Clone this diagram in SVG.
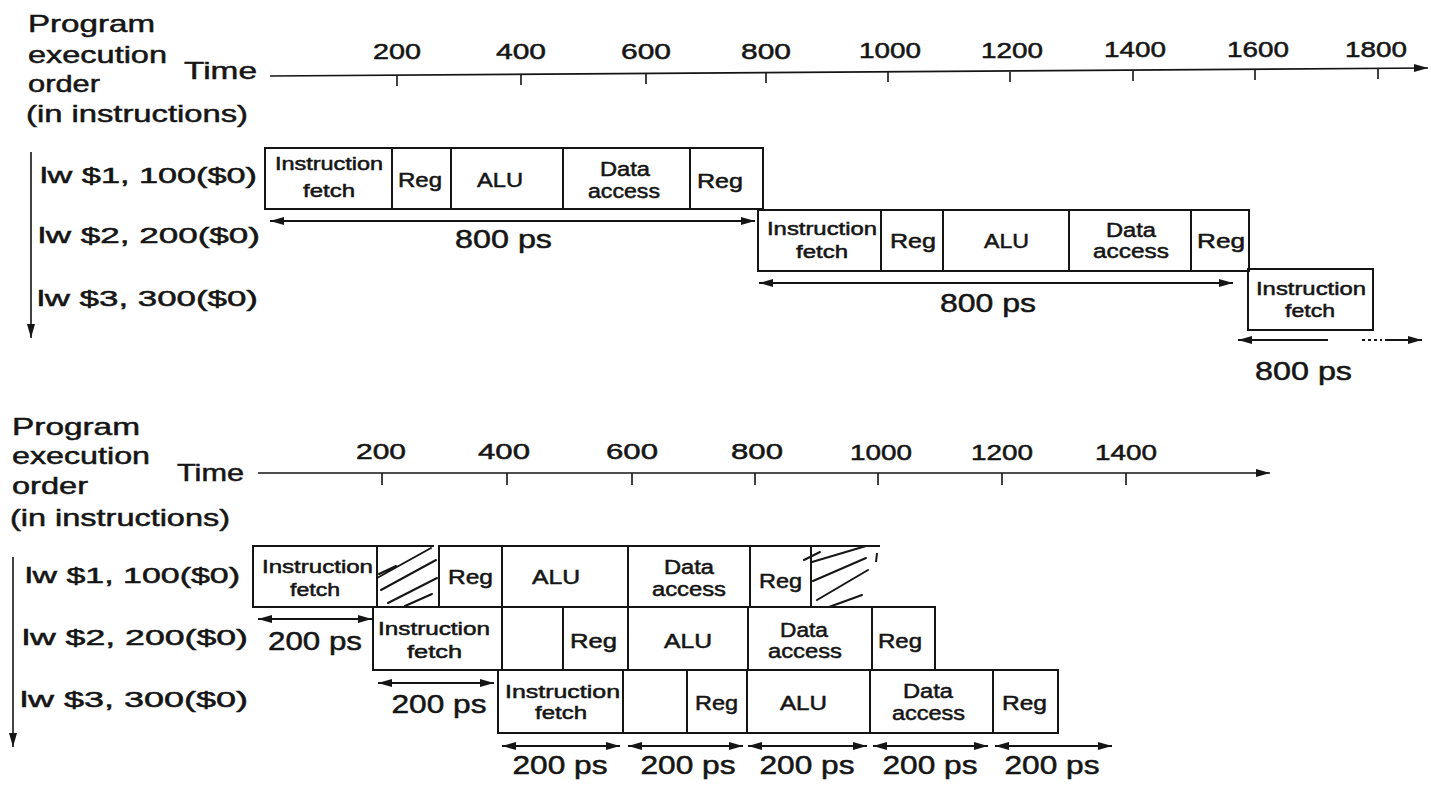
<svg xmlns="http://www.w3.org/2000/svg" width="1431" height="785" viewBox="0 0 1431 785">
<style>
text{font-family:"Liberation Sans",Arial,sans-serif;fill:#151515;stroke:#151515;stroke-width:0.5}
.big{font-size:24px}
.tk{font-size:22px}
.row{font-size:22px}
.st{font-size:20px}
.sm{font-size:18px}
.ps{font-size:25px}
.box{fill:none;stroke:#151515;stroke-width:2}
.ln{fill:none;stroke:#151515;stroke-width:2}
.ax{fill:none;stroke:#151515;stroke-width:1.6}
.hatch{fill:none;stroke:#151515;stroke-width:2;stroke-linecap:round}
</style>
<defs>
<marker id="ah" viewBox="0 0 14 10" refX="14" refY="5" markerWidth="14" markerHeight="10" markerUnits="userSpaceOnUse" orient="auto-start-reverse">
<path d="M0,1 L14,5 L0,9 z" fill="#151515"/>
</marker>
</defs>
<rect width="1431" height="785" fill="#ffffff"/>

<!-- ============ TOP DIAGRAM ============ -->
<g id="top-axis-labels">
<text class="big" x="28" y="32" textLength="127" lengthAdjust="spacingAndGlyphs">Program</text>
<text class="big" x="28" y="63" textLength="139" lengthAdjust="spacingAndGlyphs">execution</text>
<text class="big" x="28" y="92" textLength="72" lengthAdjust="spacingAndGlyphs">order</text>
<text class="big" x="26" y="122" textLength="222" lengthAdjust="spacingAndGlyphs">(in instructions)</text>
<text class="big" x="184" y="79" textLength="73" lengthAdjust="spacingAndGlyphs">Time</text>
<g text-anchor="middle">
<text class="tk" x="397" y="59" textLength="48" lengthAdjust="spacingAndGlyphs">200</text>
<text class="tk" x="521" y="59" textLength="50" lengthAdjust="spacingAndGlyphs">400</text>
<text class="tk" x="646" y="59" textLength="50" lengthAdjust="spacingAndGlyphs">600</text>
<text class="tk" x="766" y="59" textLength="50" lengthAdjust="spacingAndGlyphs">800</text>
<text class="tk" x="890" y="58" textLength="62" lengthAdjust="spacingAndGlyphs">1000</text>
<text class="tk" x="1012" y="58" textLength="62" lengthAdjust="spacingAndGlyphs">1200</text>
<text class="tk" x="1135" y="57" textLength="62" lengthAdjust="spacingAndGlyphs">1400</text>
<text class="tk" x="1258" y="57" textLength="62" lengthAdjust="spacingAndGlyphs">1600</text>
<text class="tk" x="1376" y="57" textLength="62" lengthAdjust="spacingAndGlyphs">1800</text>
</g>
<text class="row" x="40" y="183" textLength="217" lengthAdjust="spacingAndGlyphs">lw $1, 100($0)</text>
<text class="row" x="38" y="243" textLength="222" lengthAdjust="spacingAndGlyphs">lw $2, 200($0)</text>
<text class="row" x="37" y="306" textLength="221" lengthAdjust="spacingAndGlyphs">lw $3, 300($0)</text>
</g>

<!-- top row 1 -->
<g id="t1-if"><rect class="box" x="265" y="148" width="127" height="61"/>
<text class="sm" x="275" y="170" textLength="108" lengthAdjust="spacingAndGlyphs">Instruction</text>
<text class="sm" x="303" y="197" textLength="52" lengthAdjust="spacingAndGlyphs">fetch</text></g>
<g id="t1-reg1"><rect class="box" x="392" y="148" width="59" height="61"/>
<text class="st" x="398" y="187" textLength="44" lengthAdjust="spacingAndGlyphs">Reg</text></g>
<g id="t1-alu"><rect class="box" x="451" y="148" width="112" height="61"/>
<text class="st" x="477" y="187" textLength="46" lengthAdjust="spacingAndGlyphs">ALU</text></g>
<g id="t1-da"><rect class="box" x="563" y="148" width="127" height="61"/>
<text class="st" x="600" y="176" textLength="50" lengthAdjust="spacingAndGlyphs">Data</text>
<text class="st" x="588" y="198" textLength="72" lengthAdjust="spacingAndGlyphs">access</text></g>
<g id="t1-reg2"><rect class="box" x="690" y="148" width="73" height="61"/>
<text class="st" x="697" y="188" textLength="46" lengthAdjust="spacingAndGlyphs">Reg</text></g>

<!-- top row 2 -->
<g id="t2-if"><rect class="box" x="758" y="210" width="123" height="61"/>
<text class="sm" x="767" y="235" textLength="110" lengthAdjust="spacingAndGlyphs">Instruction</text>
<text class="sm" x="796" y="258" textLength="52" lengthAdjust="spacingAndGlyphs">fetch</text></g>
<g id="t2-reg1"><rect class="box" x="881" y="210" width="62" height="61"/>
<text class="st" x="890" y="248" textLength="46" lengthAdjust="spacingAndGlyphs">Reg</text></g>
<g id="t2-alu"><rect class="box" x="943" y="210" width="126" height="61"/>
<text class="st" x="984" y="248" textLength="45" lengthAdjust="spacingAndGlyphs">ALU</text></g>
<g id="t2-da"><rect class="box" x="1069" y="210" width="122" height="61"/>
<text class="st" x="1106" y="237" textLength="50" lengthAdjust="spacingAndGlyphs">Data</text>
<text class="st" x="1093" y="258" textLength="76" lengthAdjust="spacingAndGlyphs">access</text></g>
<g id="t2-reg2"><rect class="box" x="1191" y="210" width="58" height="61"/>
<text class="st" x="1197" y="248" textLength="48" lengthAdjust="spacingAndGlyphs">Reg</text></g>

<!-- top row 3 -->
<g id="t3-if"><rect class="box" x="1248" y="269" width="125" height="61"/>
<text class="sm" x="1256" y="295" textLength="110" lengthAdjust="spacingAndGlyphs">Instruction</text>
<text class="sm" x="1285" y="317" textLength="50" lengthAdjust="spacingAndGlyphs">fetch</text></g>

<g id="top-durations">
<text class="ps" x="455" y="248" textLength="97" lengthAdjust="spacingAndGlyphs">800 ps</text>
<text class="ps" x="940" y="312" textLength="96" lengthAdjust="spacingAndGlyphs">800 ps</text>
<text class="ps" x="1255" y="380" textLength="97" lengthAdjust="spacingAndGlyphs">800 ps</text>
</g>

<!-- ============ BOTTOM DIAGRAM ============ -->
<g id="bottom-axis-labels">
<text class="big" x="12" y="435" textLength="128" lengthAdjust="spacingAndGlyphs">Program</text>
<text class="big" x="12" y="464" textLength="138" lengthAdjust="spacingAndGlyphs">execution</text>
<text class="big" x="12" y="494" textLength="76" lengthAdjust="spacingAndGlyphs">order</text>
<text class="big" x="10" y="526" textLength="220" lengthAdjust="spacingAndGlyphs">(in instructions)</text>
<text class="big" x="177" y="481" textLength="67" lengthAdjust="spacingAndGlyphs">Time</text>
<g text-anchor="middle">
<text class="tk" x="381" y="459" textLength="50" lengthAdjust="spacingAndGlyphs">200</text>
<text class="tk" x="504" y="459" textLength="52" lengthAdjust="spacingAndGlyphs">400</text>
<text class="tk" x="632" y="459" textLength="52" lengthAdjust="spacingAndGlyphs">600</text>
<text class="tk" x="757" y="459" textLength="52" lengthAdjust="spacingAndGlyphs">800</text>
<text class="tk" x="881" y="460" textLength="62" lengthAdjust="spacingAndGlyphs">1000</text>
<text class="tk" x="1002" y="460" textLength="62" lengthAdjust="spacingAndGlyphs">1200</text>
<text class="tk" x="1126" y="460" textLength="62" lengthAdjust="spacingAndGlyphs">1400</text>
</g>
<text class="row" x="25" y="583" textLength="215" lengthAdjust="spacingAndGlyphs">lw $1, 100($0)</text>
<text class="row" x="22" y="645" textLength="226" lengthAdjust="spacingAndGlyphs">lw $2, 200($0)</text>
<text class="row" x="20" y="707" textLength="228" lengthAdjust="spacingAndGlyphs">lw $3, 300($0)</text>
</g>

<!-- bottom row 1 -->
<g id="b1-if"><rect class="box" x="253" y="546" width="124" height="61"/>
<text class="sm" x="262" y="573" textLength="111" lengthAdjust="spacingAndGlyphs">Instruction</text>
<text class="sm" x="290" y="596" textLength="50" lengthAdjust="spacingAndGlyphs">fetch</text></g>
<g id="b1-stall1">
<path class="ln" d="M377,546 L434,546"/>
<path class="hatch" d="M377,578 L431,548 M381,590 L436,560 M388,603 L437,578 M405,606 L432,594 M379,574 L396,566"/>
</g>
<g id="b1-reg1"><rect class="box" x="439" y="546" width="63" height="61"/>
<text class="st" x="448" y="584" textLength="45" lengthAdjust="spacingAndGlyphs">Reg</text></g>
<g id="b1-alu"><rect class="box" x="502" y="546" width="126" height="61"/>
<text class="st" x="532" y="584" textLength="48" lengthAdjust="spacingAndGlyphs">ALU</text></g>
<g id="b1-da"><rect class="box" x="628" y="546" width="122" height="61"/>
<text class="st" x="664" y="574" textLength="50" lengthAdjust="spacingAndGlyphs">Data</text>
<text class="st" x="652" y="596" textLength="74" lengthAdjust="spacingAndGlyphs">access</text></g>
<g id="b1-reg2"><rect class="box" x="750" y="546" width="61" height="61"/>
<text class="st" x="759" y="588" textLength="43" lengthAdjust="spacingAndGlyphs">Reg</text></g>
<g id="b1-stall2">
<path class="ln" d="M811,546 L880,546"/>
<path class="ln" d="M877,553 L876,562"/>
<path class="hatch" d="M812,562 L866,546 M813,581 L866,558 M817,600 L868,570 M829,607 L862,595 M804,560 L820,552"/>
</g>

<!-- bottom row 2 -->
<g id="b2-if"><rect class="box" x="373" y="607" width="129" height="63"/>
<text class="sm" x="378" y="635" textLength="112" lengthAdjust="spacingAndGlyphs">Instruction</text>
<text class="sm" x="407" y="658" textLength="55" lengthAdjust="spacingAndGlyphs">fetch</text></g>
<g id="b2-blank"><rect class="box" x="502" y="607" width="61" height="63"/></g>
<g id="b2-reg1"><rect class="box" x="563" y="607" width="65" height="63"/>
<text class="st" x="570" y="648" textLength="47" lengthAdjust="spacingAndGlyphs">Reg</text></g>
<g id="b2-alu"><rect class="box" x="628" y="607" width="120" height="63"/>
<text class="st" x="664" y="648" textLength="48" lengthAdjust="spacingAndGlyphs">ALU</text></g>
<g id="b2-da"><rect class="box" x="748" y="607" width="124" height="63"/>
<text class="st" x="780" y="637" textLength="48" lengthAdjust="spacingAndGlyphs">Data</text>
<text class="st" x="768" y="658" textLength="74" lengthAdjust="spacingAndGlyphs">access</text></g>
<g id="b2-reg2"><rect class="box" x="872" y="607" width="63" height="63"/>
<text class="st" x="878" y="648" textLength="44" lengthAdjust="spacingAndGlyphs">Reg</text></g>

<!-- bottom row 3 -->
<g id="b3-if"><rect class="box" x="498" y="670" width="125" height="63"/>
<text class="sm" x="505" y="698" textLength="115" lengthAdjust="spacingAndGlyphs">Instruction</text>
<text class="sm" x="535" y="719" textLength="52" lengthAdjust="spacingAndGlyphs">fetch</text></g>
<g id="b3-blank"><rect class="box" x="623" y="670" width="64" height="63"/></g>
<g id="b3-reg1"><rect class="box" x="687" y="670" width="60" height="63"/>
<text class="st" x="695" y="710" textLength="43" lengthAdjust="spacingAndGlyphs">Reg</text></g>
<g id="b3-alu"><rect class="box" x="747" y="670" width="123" height="63"/>
<text class="st" x="780" y="710" textLength="47" lengthAdjust="spacingAndGlyphs">ALU</text></g>
<g id="b3-da"><rect class="box" x="870" y="670" width="123" height="63"/>
<text class="st" x="903" y="698" textLength="50" lengthAdjust="spacingAndGlyphs">Data</text>
<text class="st" x="892" y="720" textLength="73" lengthAdjust="spacingAndGlyphs">access</text></g>
<g id="b3-reg2"><rect class="box" x="993" y="670" width="65" height="63"/>
<text class="st" x="1002" y="710" textLength="45" lengthAdjust="spacingAndGlyphs">Reg</text></g>

<g id="bottom-durations" text-anchor="middle">
<text class="ps" x="315" y="650" textLength="94" lengthAdjust="spacingAndGlyphs">200 ps</text>
<text class="ps" x="439" y="713" textLength="95" lengthAdjust="spacingAndGlyphs">200 ps</text>
<text class="ps" x="560" y="774" textLength="95" lengthAdjust="spacingAndGlyphs">200 ps</text>
<text class="ps" x="688" y="774" textLength="95" lengthAdjust="spacingAndGlyphs">200 ps</text>
<text class="ps" x="807" y="774" textLength="95" lengthAdjust="spacingAndGlyphs">200 ps</text>
<text class="ps" x="930" y="774" textLength="95" lengthAdjust="spacingAndGlyphs">200 ps</text>
<text class="ps" x="1052" y="774" textLength="95" lengthAdjust="spacingAndGlyphs">200 ps</text>
</g>

<!-- ============ CONNECTORS ============ -->
<g id="connectors">
<!-- top time axis -->
<path class="ax" d="M270,76 L1428,68" marker-end="url(#ah)"/>
<path class="ax" d="M397,76 V86 M521,75 V85 M646,74 V84 M766,73 V83 M888,72 V82 M1010,72 V82 M1133,71 V81 M1255,70 V80 M1378,69 V79"/>
<!-- top order axis -->
<path class="ax" d="M31,152 L31,338" marker-end="url(#ah)"/>
<!-- top durations -->
<path class="ln" d="M270,221 L755,221" marker-start="url(#ah)" marker-end="url(#ah)"/>
<path class="ln" d="M759,283 L1233,283" marker-start="url(#ah)" marker-end="url(#ah)"/>
<path class="ln" d="M1238,340 L1328,340" marker-start="url(#ah)"/>
<path class="ln" d="M1362,340 L1382,340" stroke-dasharray="3 3"/>
<path class="ln" d="M1385,340 L1422,340" marker-end="url(#ah)"/>

<!-- bottom time axis -->
<path class="ax" d="M258,473 L1270,473" marker-end="url(#ah)"/>
<path class="ax" d="M382,473 V485 M507,473 V485 M632,473 V485 M755,473 V485 M878,473 V485 M1002,473 V485 M1126,473 V485"/>
<!-- bottom order axis -->
<path class="ax" d="M13,557 L13,747" marker-end="url(#ah)"/>
<!-- bottom durations -->
<path class="ln" d="M258,619 L372,619" marker-start="url(#ah)" marker-end="url(#ah)"/>
<path class="ln" d="M378,683 L494,683" marker-start="url(#ah)" marker-end="url(#ah)"/>
<path class="ln" d="M502,746 L620,746" marker-start="url(#ah)" marker-end="url(#ah)"/>
<path class="ln" d="M628,746 L743,746" marker-start="url(#ah)" marker-end="url(#ah)"/>
<path class="ln" d="M748,746 L867,746" marker-start="url(#ah)" marker-end="url(#ah)"/>
<path class="ln" d="M873,746 L988,746" marker-start="url(#ah)" marker-end="url(#ah)"/>
<path class="ln" d="M995,746 L1112,746" marker-start="url(#ah)" marker-end="url(#ah)"/>
</g>
</svg>
